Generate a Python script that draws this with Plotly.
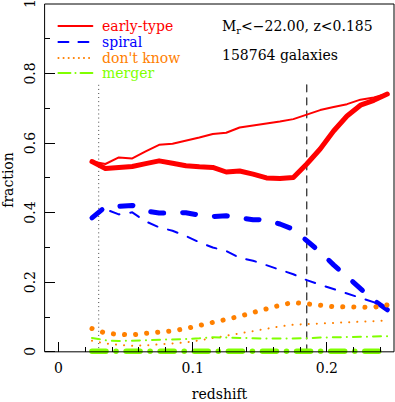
import plotly.graph_objects as go

# redshift bin centres
z = [0.025, 0.035, 0.045, 0.055, 0.065, 0.075, 0.085, 0.095, 0.105, 0.115, 0.125, 0.135,
     0.145, 0.155, 0.165, 0.175, 0.185, 0.195, 0.205, 0.215, 0.225, 0.235, 0.245]

# thin lines
early_thin = [0.547, 0.540, 0.559, 0.556, 0.576, 0.595, 0.598, 0.606, 0.616, 0.626, 0.630, 0.645,
              0.650, 0.656, 0.662, 0.669, 0.681, 0.695, 0.704, 0.712, 0.725, 0.731, 0.742]
spiral_thin = [0.385, 0.410, 0.395, 0.401, 0.375, 0.358, 0.348, 0.333, 0.315, 0.300, 0.290, 0.270,
               0.262, 0.248, 0.236, 0.223, 0.206, 0.193, 0.180, 0.167, 0.155, 0.142, 0.130]
dk_thin = [0.032, 0.024, 0.020, 0.0175, 0.0185, 0.021, 0.025, 0.027, 0.033, 0.040, 0.046, 0.052,
           0.059, 0.066, 0.073, 0.078, 0.080, 0.0815, 0.083, 0.084, 0.086, 0.088, 0.090]
merger_thin = [0.040, 0.033, 0.031, 0.032, 0.034, 0.033, 0.034, 0.037, 0.039, 0.042, 0.041, 0.039,
               0.039, 0.038, 0.038, 0.0375, 0.039, 0.041, 0.041, 0.042, 0.043, 0.044, 0.045]

# thick lines
early_thick = [0.547, 0.527, 0.530, 0.533, 0.541, 0.549, 0.542, 0.535, 0.532, 0.530, 0.517, 0.520,
               0.511, 0.500, 0.498, 0.501, 0.540, 0.583, 0.635, 0.678, 0.709, 0.723, 0.741]
spiral_thick = [0.385, 0.417, 0.418, 0.421, 0.405, 0.399, 0.399, 0.400, 0.393, 0.389, 0.391, 0.386,
                0.380, 0.379, 0.3675, 0.352, 0.320, 0.287, 0.250, 0.216, 0.185, 0.148, 0.121]
dk_thick = [0.067, 0.054, 0.050, 0.049, 0.053, 0.055, 0.060, 0.067, 0.075, 0.084, 0.093, 0.102,
            0.113, 0.124, 0.134, 0.142, 0.137, 0.134, 0.130, 0.129, 0.130, 0.128, 0.135]
merger_thick = [0.002] * 23

vline_dot_x = [0.03, 0.03]
vline_dash_x = [0.185, 0.185]
vline_y = [0.0, 0.775]

y_tick_vals = [0, 0.2, 0.4, 0.6, 0.8, 1]
y_tick_text = ["0", "0.2", "0.4", "0.6", "0.8", "1"]

legend_labels = ["early-type", "spiral", "don't know", "merger"]
legend_y = [0.9366, 0.8907, 0.8447, 0.8017]

RED, BLUE, ORANGE, GREEN = "#ff0000", "#0000ff", "#ff8000", "#80ff00"
colors = [RED, BLUE, ORANGE, GREEN]
# dash patterns assume round line caps (set in post_script)
thin_dash = ["solid", "10px,11px", "0.1px,8px", "8px,6px,0.1px,6px"]
thick_dash = ["solid", "13px,19px", "0.1px,11px", "14px,10px,0.1px,10px"]
legend_dash = ["solid", "10px,10px", "0.1px,5px", "12px,5px,0.1px,5px"]

FONT = "DejaVu Serif"
YMIN = -0.012
XPOS = -YMIN / (1 - YMIN)

fig = go.Figure()

fig.add_trace(go.Scatter(x=vline_dot_x, y=vline_y, mode="lines",
                         line=dict(color="#333333", width=1, dash="0.1px,4px"), showlegend=False))
fig.add_trace(go.Scatter(x=vline_dash_x, y=vline_y, mode="lines",
                         line=dict(color="#222222", width=1.2, dash="7px,6px"), showlegend=False))

thin = [early_thin, spiral_thin, dk_thin, merger_thin]
thick = [early_thick, spiral_thick, dk_thick, merger_thick]
thick_w = [5, 5, 5, 5.5]

for i in range(4):
    fig.add_trace(go.Scatter(x=z, y=thin[i], mode="lines",
                             line=dict(color=colors[i], width=2, dash=thin_dash[i]),
                             showlegend=False))
    fig.add_trace(go.Scatter(x=z, y=thick[i], mode="lines",
                             line=dict(color=colors[i], width=thick_w[i], dash=thick_dash[i]),
                             showlegend=False))

# legend (shapes + annotations)
for i, lab in enumerate(legend_labels):
    fig.add_shape(type="line", xref="x", yref="y", x0=0.0, x1=0.0253,
                  y0=legend_y[i], y1=legend_y[i],
                  line=dict(color=colors[i], width=2, dash=legend_dash[i]))
    fig.add_annotation(x=0.031, y=legend_y[i], xref="x", yref="y", text=lab,
                       showarrow=False, xanchor="left", yanchor="middle",
                       font=dict(family=FONT, size=14, color=colors[i]))

fig.add_annotation(x=0.1205, y=0.935, xref="x", yref="y",
                   text="M<sub>r</sub>&lt;−22.00, z&lt;0.185",
                   showarrow=False, xanchor="left", yanchor="middle",
                   font=dict(family=FONT, size=14, color="black"))
fig.add_annotation(x=0.1205, y=0.853, xref="x", yref="y",
                   text="158764 galaxies",
                   showarrow=False, xanchor="left", yanchor="middle",
                   font=dict(family=FONT, size=14, color="black"))

# rotated y tick labels
for v, t in zip(y_tick_vals, y_tick_text):
    fig.add_annotation(x=0, y=v, xref="paper", yref="y", text=t, textangle=-90,
                       showarrow=False, xanchor="center", yanchor="middle", xshift=-15,
                       font=dict(family=FONT, size=14, color="black"))

# frame (paper coords, from data y=0 to top)
fig.add_shape(type="rect", xref="paper", yref="paper", x0=0, x1=1, y0=XPOS, y1=1,
              line=dict(color="black", width=1), fillcolor="rgba(0,0,0,0)", layer="above")

tick_common = dict(ticks="inside", tickcolor="black", tickwidth=1, showgrid=False,
                   zeroline=False)

fig.update_layout(
    xaxis=dict(range=[-0.01, 0.25], dtick=0.1, tick0=0, anchor="free", position=XPOS,
               showline=False, ticklen=10,
               tickfont=dict(family=FONT, size=14, color="black"),
               minor=dict(dtick=0.02, tick0=0, ticks="inside", ticklen=5, tickcolor="black"),
               title=dict(text="redshift", font=dict(family=FONT, size=14, color="black"),
                          standoff=15),
               ticklabelstandoff=6, **tick_common),
    xaxis2=dict(range=[-0.01, 0.25], dtick=0.1, tick0=0, overlaying="x", side="top",
                anchor="y", showline=False, showticklabels=False, ticklen=10,
                minor=dict(dtick=0.02, tick0=0, ticks="inside", ticklen=5, tickcolor="black"),
                **tick_common),
    yaxis=dict(range=[YMIN, 1], dtick=0.2, tick0=0, showline=False, showticklabels=False,
               ticklen=10,
               minor=dict(dtick=0.1, tick0=0, ticks="inside", ticklen=5, tickcolor="black"),
               title=dict(text="fraction", font=dict(family=FONT, size=14, color="black"),
                          standoff=27),
               **tick_common),
    yaxis2=dict(range=[YMIN, 1], dtick=0.2, tick0=0, overlaying="y", side="right",
                anchor="x", showline=False, showticklabels=False, ticklen=10,
                minor=dict(dtick=0.1, tick0=0, ticks="inside", ticklen=5, tickcolor="black"),
                **tick_common),
    width=395, height=402,
    margin=dict(l=45, r=1, t=4, b=46.1, autoexpand=False),
    paper_bgcolor="white", plot_bgcolor="white", showlegend=False,
)

post = """
document.body.style.margin='0';document.body.style.padding='0';
document.querySelectorAll('path.js-line, .shapelayer path').forEach(function(p){
  p.style.strokeLinecap='round'; p.style.strokeLinejoin='round';
});
"""

fig.write_html("out.html", config={"displayModeBar": False}, post_script=post)
